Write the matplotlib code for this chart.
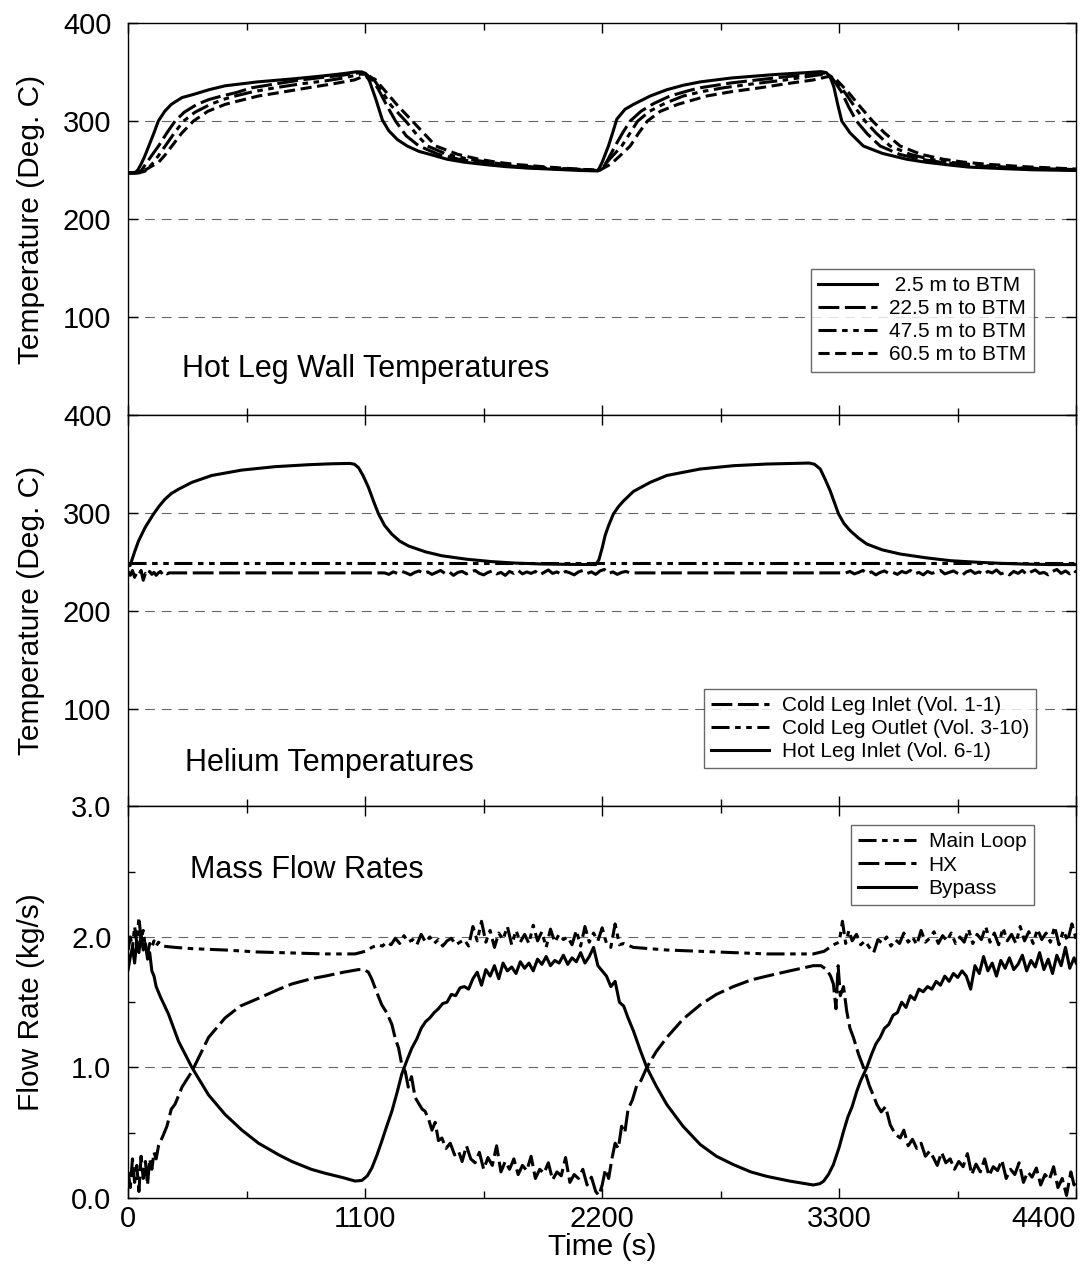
import matplotlib
matplotlib.use('Agg')
import matplotlib.pyplot as plt
import numpy as np
from matplotlib.ticker import MultipleLocator, FormatStrFormatter

# hot leg wall temperatures (time s, deg C)
wall_25m = [(0, 247), (30, 247), (45, 250), (60, 256), (75, 263), (95, 274), (120, 288), (140, 300),
            (170, 310), (200, 317), (250, 324), (300, 327), (375, 332), (450, 336), (600, 340),
            (760, 343), (900, 346), (1000, 348.5), (1060, 350.3), (1085, 350.2), (1100, 348),
            (1120, 341), (1150, 322), (1180, 301), (1210, 290), (1250, 281), (1295, 274.5),
            (1350, 269), (1400, 266), (1480, 261), (1560, 258), (1650, 255.7), (1750, 253.5),
            (1850, 252), (1990, 250.6), (2100, 249.5), (2180, 249),
            (2200, 258), (2229, 274.5), (2250, 289), (2268, 302), (2306, 312), (2345, 317),
            (2423, 325.6), (2500, 332), (2577, 336.6), (2655, 340), (2800, 344), (3000, 347.5),
            (3150, 349.5), (3215, 350.5), (3240, 349.5), (3258, 345), (3275, 335), (3292, 318),
            (3312, 300), (3350, 288), (3412, 274.5), (3500, 267), (3613, 261), (3700, 258),
            (3815, 255), (3900, 253), (4050, 251.5), (4200, 250.2), (4400, 249.5)]
wall_225m = [(0, 247), (40, 247), (60, 249), (87, 257.8), (110, 265), (141, 274.5), (180, 288),
             (218, 300), (260, 309), (319, 317), (375, 322), (435, 325.6), (500, 329), (574, 334),
             (700, 338.5), (800, 342), (900, 344.5), (1000, 347), (1075, 349.5), (1100, 349),
             (1131, 342.7), (1160, 333), (1200, 316), (1241, 300), (1290, 285), (1350, 274.5),
             (1440, 266), (1535, 261), (1620, 258), (1707, 255.7), (1850, 252.5), (2047, 250.6),
             (2180, 249.5),
             (2195, 249.5), (2215, 256), (2260, 274.5), (2295, 288), (2330, 300), (2380, 310),
             (2440, 318), (2515, 325.6), (2600, 331), (2655, 334), (2800, 339), (3000, 344),
             (3150, 347.5), (3235, 349), (3260, 346), (3280, 340), (3310, 330), (3345, 314),
             (3380, 300), (3430, 287), (3490, 274.5), (3580, 266), (3676, 261), (3770, 258),
             (3880, 255.5), (4050, 252.5), (4250, 251), (4400, 250)]
wall_475m = [(0, 247), (50, 247), (80, 249), (118, 257.8), (145, 266), (172, 274.5), (215, 288),
             (257, 300), (310, 309), (381, 317), (440, 322), (497, 325.6), (580, 330), (682, 334),
             (800, 338), (914, 341), (1000, 344), (1080, 348), (1110, 347.5), (1139, 342.7),
             (1170, 333), (1220, 316), (1288, 300), (1340, 286), (1389, 274.5), (1480, 266),
             (1582, 261), (1670, 258), (1752, 255.7), (1900, 252.8), (2080, 250.8), (2190, 250),
             (2230, 260), (2291, 274.5), (2330, 288), (2365, 300), (2420, 310), (2490, 318),
             (2577, 325.6), (2660, 330), (2763, 334), (2900, 338), (3050, 342), (3200, 347),
             (3245, 348), (3280, 342.7), (3330, 328), (3380, 312), (3420, 300), (3470, 288),
             (3536, 274.5), (3630, 266), (3722, 261), (3810, 258), (3920, 255.5), (4100, 252.5),
             (4300, 251), (4400, 250.5)]
wall_605m = [(0, 247), (40, 247.5), (84, 250.6), (110, 254), (141, 257.8), (170, 265), (203, 274.5),
             (250, 288), (303, 300), (370, 310), (450, 317), (520, 321), (605, 325.6), (700, 329),
             (836, 334), (950, 338), (1050, 342), (1090, 345.5), (1125, 344.5), (1146, 342.7),
             (1180, 334), (1250, 316), (1319, 300), (1370, 288), (1428, 274.5), (1530, 266),
             (1628, 261), (1710, 258), (1798, 255.7), (1950, 253), (2108, 250.6), (2190, 250),
             (2240, 256), (2280, 264), (2330, 274.5), (2370, 288), (2410, 300), (2470, 310),
             (2550, 317), (2686, 325.6), (2800, 330), (2933, 334), (3050, 338), (3180, 342),
             (3250, 345.5), (3285, 342.7), (3340, 330), (3400, 314), (3455, 300), (3510, 288),
             (3583, 274.5), (3680, 266), (3783, 261), (3880, 258), (3980, 256), (4150, 253.5),
             (4300, 252), (4400, 251)]

# helium temperatures (time s, deg C)
hot_leg_inlet = [(0, 246), (9, 246), (30, 260), (48, 271), (79, 285), (118, 298.7), (145, 307),
                 (172, 314), (200, 319.5), (234, 324), (296, 331), (388, 338), (527, 343.5),
                 (682, 347), (837, 349), (950, 350), (1030, 350.3), (1050, 349.5), (1069, 346),
                 (1090, 338), (1115, 326), (1140, 311), (1162, 298.7), (1190, 287), (1224, 278),
                 (1260, 271), (1301, 266), (1380, 260), (1456, 256), (1570, 252.5), (1688, 250),
                 (1800, 248.5), (1920, 247.6), (2050, 247.2), (2170, 247), (2185, 252), (2200, 264),
                 (2214, 277), (2230, 287), (2252, 298.7), (2275, 306), (2299, 312), (2345, 321.7),
                 (2423, 331), (2500, 338), (2655, 344.6), (2809, 348), (2964, 349.7), (3160, 350.7),
                 (3185, 349.5), (3212, 344.6), (3235, 334), (3258, 322.4), (3297, 298.7),
                 (3322, 289), (3351, 281.6), (3390, 274), (3428, 268), (3500, 262), (3583, 257.8),
                 (3700, 254), (3815, 251), (3930, 249.5), (4047, 248.3), (4160, 247.5),
                 (4279, 247), (4400, 247)]
cold_leg_outlet = [(0, 248.8), (1200, 248.8), (2200, 248.8), (3300, 248.8), (4400, 248.8)]
cold_leg_inlet = [(0, 240), (10, 236), (20, 241), (30, 234), (40, 239), (50, 237), (60, 241),
                  (70, 231), (80, 238), (90, 236), (100, 240), (110, 237), (120, 239), (130, 236),
                  (140, 238.5), (150, 240), (160, 237), (170, 239), (180, 237.5), (190, 238.5),
                  (1190, 238.5), (1210, 237), (1230, 239.5), (1250, 238), (1270, 240), (1290, 238.5),
                  (1310, 236.5), (1330, 239), (1350, 240.5), (1370, 238), (1390, 239.5), (1410, 237),
                  (1430, 239), (1450, 241), (1470, 238), (1490, 239.5), (1510, 236), (1530, 239),
                  (1550, 240), (1570, 237.5), (1590, 239.5), (1610, 241), (1630, 238), (1650, 236.5),
                  (1670, 239), (1690, 240.5), (1710, 237.5), (1730, 239), (1750, 236), (1770, 240),
                  (1790, 238), (1810, 241), (1830, 237.5), (1850, 239.5), (1870, 238), (1890, 240),
                  (1910, 236.5), (1930, 239), (1950, 241.5), (1970, 238), (1990, 239.5), (2010, 237),
                  (2030, 240), (2050, 238.5), (2070, 236.5), (2090, 239.5), (2110, 241), (2130, 238),
                  (2150, 239.5), (2170, 237), (2190, 240.5), (2210, 242), (2230, 238), (2250, 239.5),
                  (2270, 237), (2290, 239), (2310, 240), (2330, 238.5),
                  (3330, 238.5), (3350, 240), (3370, 237.5), (3390, 239), (3410, 241), (3430, 238),
                  (3450, 239.5), (3470, 236.5), (3490, 239), (3510, 240.5), (3530, 238), (3550, 239),
                  (3570, 237), (3590, 240), (3610, 238.5), (3630, 241), (3650, 237.5), (3670, 239),
                  (3690, 236.5), (3710, 240), (3730, 238), (3750, 239.5), (3770, 241), (3790, 237.5),
                  (3810, 239), (3830, 240.5), (3850, 238), (3870, 236), (3890, 239.5), (3910, 241),
                  (3930, 238), (3950, 239.5), (3970, 237), (3990, 240), (4010, 238.5), (4030, 241.5),
                  (4050, 237.5), (4070, 239), (4090, 236.5), (4110, 240), (4130, 238), (4150, 241),
                  (4170, 237), (4190, 239.5), (4210, 241.5), (4230, 238), (4250, 239), (4270, 236.5),
                  (4290, 240), (4310, 242), (4330, 238), (4350, 240.5), (4370, 237.5), (4390, 241),
                  (4400, 239)]

# mass flow rates (time s, kg/s)
main_loop = [(0, 1.90), (10, 2.00), (20, 1.92), (30, 2.08), (40, 1.95), (50, 2.15), (60, 1.98),
             (70, 2.05), (80, 1.92), (90, 1.87), (100, 1.95), (110, 1.92), (120, 1.97), (130, 1.93),
             (141, 1.96), (160, 1.93), (218, 1.92), (300, 1.91), (450, 1.90), (600, 1.885),
             (800, 1.875), (914, 1.87), (1053, 1.87), (1100, 1.89), (1131, 1.92), (1160, 1.94),
             (1180, 1.93), (1200, 1.96), (1220, 1.94), (1240, 1.99), (1260, 1.95), (1280, 2.01),
             (1300, 1.96), (1320, 1.98), (1340, 1.94), (1360, 2.02), (1380, 1.96), (1400, 2.00),
             (1420, 1.95), (1440, 1.98), (1460, 1.93), (1480, 1.97), (1500, 1.99), (1520, 1.94),
             (1540, 1.96), (1560, 1.98), (1580, 1.93), (1600, 2.08), (1620, 1.97), (1640, 2.12),
             (1660, 1.96), (1680, 2.05), (1700, 1.92), (1720, 2.03), (1740, 1.98), (1760, 2.08),
             (1780, 1.94), (1800, 2.05), (1820, 1.96), (1840, 2.02), (1860, 1.95), (1880, 2.09),
             (1900, 1.97), (1920, 2.04), (1940, 1.92), (1960, 2.06), (1980, 1.96), (2000, 2.02),
             (2020, 1.98), (2040, 2.00), (2060, 1.94), (2080, 2.05), (2100, 1.93), (2120, 2.08),
             (2140, 1.96), (2160, 2.03), (2180, 1.97), (2200, 2.07), (2220, 1.95), (2240, 1.92),
             (2260, 2.10), (2280, 1.94), (2300, 1.95), (2345, 1.92), (2500, 1.90), (2655, 1.89),
             (2809, 1.88), (2964, 1.87), (3180, 1.87), (3230, 1.89), (3273, 1.94), (3300, 1.96),
             (3315, 2.12), (3330, 1.95), (3345, 2.05), (3360, 1.97), (3380, 2.02), (3400, 1.94),
             (3420, 1.97), (3440, 1.92), (3460, 1.88), (3480, 1.98), (3500, 1.95), (3520, 2.00),
             (3540, 1.93), (3560, 1.98), (3580, 1.95), (3600, 2.03), (3620, 1.96), (3640, 2.00),
             (3660, 1.94), (3680, 2.05), (3700, 1.96), (3720, 1.99), (3740, 2.04), (3760, 1.95),
             (3780, 2.01), (3800, 1.97), (3820, 2.03), (3840, 1.95), (3860, 2.00), (3880, 1.96),
             (3900, 2.06), (3920, 1.95), (3940, 2.02), (3960, 1.98), (3980, 2.08), (4000, 1.96),
             (4020, 2.03), (4040, 1.94), (4060, 2.07), (4080, 1.97), (4100, 2.02), (4120, 1.95),
             (4140, 2.08), (4160, 1.97), (4180, 2.04), (4200, 1.95), (4220, 2.06), (4240, 1.98),
             (4260, 2.03), (4280, 1.96), (4300, 2.08), (4320, 1.94), (4340, 2.05), (4360, 1.97),
             (4380, 2.10), (4400, 1.98)]
hx_flow = [(0, 0.20), (10, 0.08), (20, 0.30), (30, 0.12), (40, 0.25), (50, 0.05), (60, 0.32),
           (70, 0.15), (80, 0.28), (90, 0.10), (100, 0.30), (110, 0.22), (120, 0.35), (130, 0.30),
           (141, 0.40), (160, 0.47), (180, 0.55), (200, 0.68), (218, 0.72), (250, 0.85), (296, 0.97),
           (373, 1.23), (450, 1.38), (520, 1.47), (605, 1.53), (700, 1.60), (760, 1.64), (850, 1.68),
           (914, 1.70), (1000, 1.73), (1069, 1.75), (1095, 1.75), (1115, 1.73), (1130, 1.68),
           (1146, 1.61), (1160, 1.55), (1177, 1.48), (1200, 1.42), (1224, 1.33), (1240, 1.22),
           (1255, 1.15), (1270, 1.02), (1286, 0.97), (1300, 0.85), (1315, 0.93), (1332, 0.77),
           (1350, 0.72), (1365, 0.68), (1378, 0.665), (1395, 0.60), (1410, 0.52), (1425, 0.58),
           (1440, 0.44), (1456, 0.46), (1475, 0.38), (1495, 0.42), (1515, 0.33), (1533, 0.36),
           (1550, 0.28), (1570, 0.40), (1590, 0.30), (1610, 0.27), (1630, 0.35), (1650, 0.22),
           (1670, 0.31), (1690, 0.25), (1710, 0.40), (1730, 0.20), (1750, 0.28), (1770, 0.22),
           (1790, 0.30), (1810, 0.18), (1830, 0.25), (1850, 0.21), (1870, 0.32), (1890, 0.15),
           (1910, 0.22), (1930, 0.19), (1950, 0.27), (1970, 0.14), (1990, 0.20), (2010, 0.17),
           (2030, 0.31), (2050, 0.12), (2070, 0.18), (2090, 0.15), (2110, 0.22), (2130, 0.10),
           (2150, 0.16), (2170, 0.05), (2185, 0.02), (2200, 0.10), (2215, 0.22), (2230, 0.15),
           (2245, 0.30), (2260, 0.42), (2275, 0.38), (2290, 0.55), (2305, 0.50), (2320, 0.68),
           (2340, 0.75), (2360, 0.86), (2380, 0.90), (2407, 1.0), (2450, 1.12), (2500, 1.23),
           (2575, 1.37), (2655, 1.48), (2730, 1.56), (2809, 1.62), (2890, 1.67), (2964, 1.70),
           (3070, 1.74), (3180, 1.78), (3215, 1.78), (3242, 1.75), (3260, 1.70), (3273, 1.64),
           (3285, 1.45), (3295, 1.78), (3305, 1.55), (3320, 1.62), (3335, 1.43), (3350, 1.30),
           (3366, 1.23), (3390, 1.10), (3413, 1.0), (3440, 0.86), (3460, 0.78), (3475, 0.716),
           (3495, 0.66), (3515, 0.70), (3537, 0.56), (3560, 0.49), (3583, 0.46), (3600, 0.52),
           (3620, 0.40), (3640, 0.45), (3660, 0.38), (3680, 0.42), (3700, 0.32), (3720, 0.36),
           (3737, 0.31), (3755, 0.25), (3775, 0.35), (3795, 0.27), (3815, 0.30), (3835, 0.22),
           (3855, 0.28), (3875, 0.24), (3895, 0.34), (3915, 0.18), (3935, 0.26), (3955, 0.20),
           (3975, 0.30), (3995, 0.17), (4015, 0.24), (4035, 0.21), (4055, 0.29), (4075, 0.15),
           (4095, 0.22), (4115, 0.18), (4135, 0.27), (4155, 0.12), (4175, 0.20), (4195, 0.16),
           (4215, 0.23), (4235, 0.10), (4255, 0.18), (4275, 0.14), (4295, 0.24), (4315, 0.08),
           (4335, 0.15), (4355, 0.02), (4375, 0.20), (4390, 0.10), (4400, 0.15)]
bypass_flow = [(0, 1.75), (10, 1.85), (20, 1.92), (30, 1.80), (40, 1.97), (50, 1.88), (60, 2.02),
               (70, 1.90), (80, 1.95), (90, 1.83), (100, 1.88), (110, 1.74), (120, 1.70), (130, 1.62),
               (140, 1.58), (150, 1.54), (187, 1.41), (234, 1.20), (296, 1.0), (373, 0.79),
               (450, 0.64), (528, 0.52), (605, 0.42), (700, 0.33), (760, 0.28), (850, 0.22),
               (914, 0.19), (1000, 0.155), (1053, 0.13), (1085, 0.135), (1110, 0.17), (1131, 0.23),
               (1155, 0.33), (1177, 0.435), (1200, 0.55), (1224, 0.665), (1250, 0.82), (1270, 0.95),
               (1295, 1.06), (1317, 1.15), (1340, 1.22), (1360, 1.30), (1380, 1.35), (1400, 1.38),
               (1420, 1.42), (1440, 1.45), (1460, 1.49), (1480, 1.50), (1500, 1.56), (1520, 1.55),
               (1540, 1.61), (1560, 1.62), (1580, 1.60), (1600, 1.68), (1620, 1.73), (1640, 1.63),
               (1660, 1.75), (1680, 1.70), (1700, 1.78), (1720, 1.68), (1740, 1.80), (1760, 1.74),
               (1780, 1.77), (1800, 1.72), (1820, 1.81), (1840, 1.76), (1860, 1.80), (1880, 1.74),
               (1900, 1.83), (1920, 1.79), (1940, 1.85), (1960, 1.78), (1980, 1.82), (2000, 1.80),
               (2020, 1.86), (2040, 1.79), (2060, 1.84), (2080, 1.81), (2100, 1.88), (2120, 1.80),
               (2140, 1.85), (2160, 1.92), (2180, 1.78), (2200, 1.74), (2220, 1.70), (2240, 1.62),
               (2260, 1.66), (2280, 1.50), (2300, 1.47), (2320, 1.38), (2345, 1.28), (2375, 1.14),
               (2407, 1.0), (2450, 0.86), (2500, 0.716), (2575, 0.55), (2655, 0.41), (2730, 0.32),
               (2809, 0.256), (2890, 0.20), (2964, 0.166), (3070, 0.13), (3180, 0.10), (3210, 0.11),
               (3227, 0.128), (3250, 0.18), (3273, 0.256), (3300, 0.39), (3320, 0.51), (3340, 0.62),
               (3360, 0.70), (3382, 0.82), (3400, 0.90), (3428, 1.0), (3450, 1.10), (3470, 1.18),
               (3490, 1.23), (3510, 1.30), (3530, 1.33), (3550, 1.40), (3570, 1.42), (3590, 1.50),
               (3610, 1.46), (3630, 1.55), (3650, 1.52), (3670, 1.60), (3690, 1.58), (3710, 1.62),
               (3730, 1.60), (3750, 1.66), (3770, 1.63), (3790, 1.70), (3810, 1.66), (3830, 1.72),
               (3850, 1.69), (3870, 1.74), (3890, 1.70), (3910, 1.60), (3930, 1.78), (3950, 1.72),
               (3970, 1.85), (3990, 1.74), (4010, 1.80), (4030, 1.70), (4050, 1.82), (4070, 1.76),
               (4090, 1.84), (4110, 1.75), (4130, 1.79), (4150, 1.86), (4170, 1.74), (4190, 1.82),
               (4210, 1.77), (4230, 1.88), (4250, 1.75), (4270, 1.83), (4290, 1.72), (4310, 1.86),
               (4330, 1.78), (4350, 1.92), (4370, 1.76), (4390, 1.84), (4400, 1.80)]

x_ticks = [0, 1100, 2200, 3300, 4400]
temp_ticks = [100, 200, 300, 400]
flow_ticks = [0.0, 1.0, 2.0, 3.0]

plt.rcParams['font.family'] = ['Liberation Sans', 'DejaVu Sans']
plt.rcParams['lines.scale_dashes'] = False

SOLID = '-'
LONG = (0, (15, 4))
LONG_SHORT = (0, (13, 4, 4, 4, 4, 4))
SHORT = (0, (8, 4))
LW = 2.2
TICK_FS = 21
LABEL_FS = 21.5


def curve(ax, data, ls, label):
    t, v = np.array(data).T
    ax.plot(t, v, color='black', lw=LW, ls=ls, label=label, zorder=3)


def style_axis(ax):
    ax.set_xlim(0, 4400)
    ax.set_xticks(x_ticks)
    ax.xaxis.set_minor_locator(MultipleLocator(550))
    ax.tick_params(which='both', direction='in', top=True, right=True, width=1,
                   labelsize=TICK_FS)
    ax.tick_params(axis='x', which='both', pad=5)
    ax.tick_params(axis='y', which='both', pad=12)
    ax.tick_params(which='major', length=7)
    ax.tick_params(which='minor', length=5)
    for s in ax.spines.values():
        s.set_linewidth(1.0)
    ax.yaxis.set_label_coords(-0.088, 0.5)


def legend(ax, **kw):
    leg = ax.legend(fontsize=15, frameon=True, fancybox=False, handlelength=2.8,
                    handletextpad=0.6, labelspacing=0.2, borderpad=0.35, borderaxespad=0, **kw)
    leg.get_frame().set_edgecolor('#444444')
    leg.get_frame().set_linewidth(1.0)
    leg.set_zorder(5)


fig, axes = plt.subplots(3, 1, figsize=(10.86, 12.86), dpi=100, sharex=True)
fig.subplots_adjust(left=0.118, right=0.991, top=0.982, bottom=0.0684, hspace=0)
ax1, ax2, ax3 = axes
grid_kw = dict(color='#666666', lw=0.8, ls=(0, (7, 5)), zorder=1)

# top: hot leg wall temperatures
for y in [100, 200, 300]:
    ax1.axhline(y, **grid_kw)
curve(ax1, wall_25m, SOLID, ' 2.5 m to BTM')
curve(ax1, wall_225m, LONG, '22.5 m to BTM')
curve(ax1, wall_475m, LONG_SHORT, '47.5 m to BTM')
curve(ax1, wall_605m, SHORT, '60.5 m to BTM')
ax1.set_ylim(0, 400)
ax1.set_yticks(temp_ticks)
ax1.set_ylabel('Temperature (Deg. C)', fontsize=LABEL_FS)
ax1.text(0.057, 0.118, 'Hot Leg Wall Temperatures', transform=ax1.transAxes,
         fontsize=22, va='center', ha='left')
legend(ax1, loc='lower right', bbox_to_anchor=(0.955, 0.11))

# middle: helium temperatures
for y in [100, 200, 300]:
    ax2.axhline(y, **grid_kw)
curve(ax2, cold_leg_inlet, LONG, 'Cold Leg Inlet (Vol. 1-1)')
curve(ax2, cold_leg_outlet, LONG_SHORT, 'Cold Leg Outlet (Vol. 3-10)')
curve(ax2, hot_leg_inlet, SOLID, 'Hot Leg Inlet (Vol. 6-1)')
ax2.set_ylim(0, 400)
ax2.set_yticks(temp_ticks)
ax2.set_ylabel('Temperature (Deg. C)', fontsize=LABEL_FS)
ax2.text(0.06, 0.11, 'Helium Temperatures', transform=ax2.transAxes,
         fontsize=22, va='center', ha='left')
legend(ax2, loc='lower right', bbox_to_anchor=(0.958, 0.097))

# bottom: mass flow rates
for y in [1.0, 2.0]:
    ax3.axhline(y, **grid_kw)
curve(ax3, main_loop, LONG_SHORT, 'Main Loop')
curve(ax3, hx_flow, LONG, 'HX')
curve(ax3, bypass_flow, SOLID, 'Bypass')
ax3.set_ylim(0, 3.0)
ax3.set_yticks(flow_ticks)
ax3.yaxis.set_minor_locator(MultipleLocator(0.5))
ax3.yaxis.set_major_formatter(FormatStrFormatter('%.1f'))
ax3.set_ylabel('Flow Rate (kg/s)', fontsize=LABEL_FS)
ax3.set_xlabel('Time (s)', fontsize=LABEL_FS, labelpad=0)
ax3.text(0.065, 0.837, 'Mass Flow Rates', transform=ax3.transAxes,
         fontsize=22, va='center', ha='left')
legend(ax3, loc='upper right', bbox_to_anchor=(0.955, 0.952))

for ax in axes:
    style_axis(ax)
for ax in (ax1, ax2):
    ax.tick_params(labelbottom=False)

# keep the last time label inside the figure
fig.canvas.draw()
ax3.get_xticklabels()[-1].set_ha('right')

fig.savefig('out.png', dpi=100)
